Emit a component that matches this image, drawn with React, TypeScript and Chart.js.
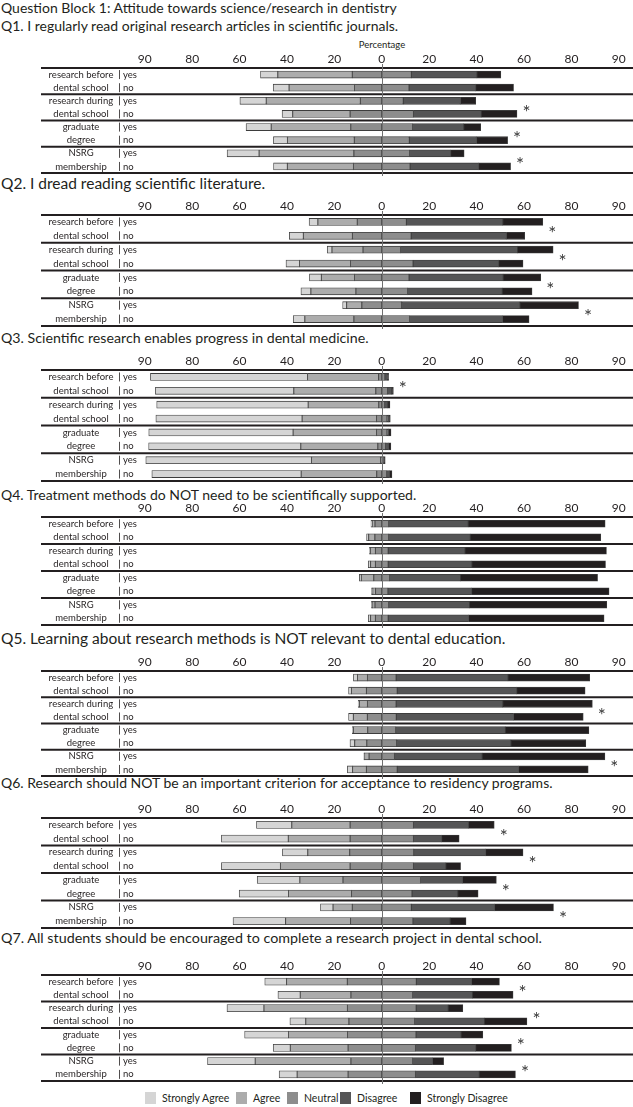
import { useEffect, useRef } from "react";
import { Chart, registerables } from "chart.js";

Chart.register(...registerables);

const FONT = 'Lato, "Liberation Sans", Arial, sans-serif';
const INK = "#231f20";

const blockTitle = "Question Block 1: Attitude towards science/research in dentistry";

const questions = [
	"Q1. I regularly read original research articles in scientific journals.",
	"Q2. I dread reading scientific literature.",
	"Q3. Scientific research enables progress in dental medicine.",
	"Q4. Treatment methods do NOT need to be scientifically supported.",
	"Q5. Learning about research methods is NOT relevant to dental education.",
	"Q6. Research should NOT be an important criterion for acceptance to residency programs.",
	"Q7. All students should be encouraged to complete a research project in dental school.",
];

const groupLabels = [
	["research before", "dental school"],
	["research during", "dental school"],
	["graduate", "degree"],
	["NSRG", "membership"],
];
const rowLabels = ["yes", "no", "yes", "no", "yes", "no", "yes", "no"];

const tickValues = [-100, -80, -60, -40, -20, 0, 20, 40, 60, 80, 100];
const tickLabels = ["90", "80", "60", "40", "20", "0", "20", "40", "60", "80", "90"];

const responseLabels = ["Strongly Agree", "Agree", "Neutral", "Disagree", "Strongly Disagree"];
const responseColors = ["#d5d5d5", "#acacac", "#8d8d8d", "#555556", "#231f20"];

// percent of respondents, rows: before yes/no, during yes/no, graduate yes/no, NSRG yes/no
const stronglyAgree = [
	[7.3, 6.7, 11.1, 4.5, 10.6, 5.9, 13.5, 5.8],
	[3.7, 5.9, 2.0, 5.7, 5.0, 4.2, 1.7, 4.9],
	[66.3, 58.4, 63.9, 61.7, 60.9, 64.2, 69.9, 63.0],
	[0.5, 0.9, 0.4, 1.0, 0.8, 0.5, 0.5, 1.0],
	[1.7, 1.2, 0.5, 2.0, 0.4, 2.0, 0.3, 2.2],
	[14.9, 28.2, 10.7, 24.9, 18.0, 20.8, 5.3, 22.2],
	[9.2, 9.4, 15.6, 6.7, 18.5, 7.2, 20.1, 7.6],
];
const agree = [
	[31.4, 27.6, 39.7, 24.2, 33.6, 28.2, 40.0, 27.9],
	[16.6, 20.7, 13.1, 21.5, 14.0, 19.0, 6.4, 20.7],
	[30.0, 34.6, 29.8, 31.4, 35.2, 32.5, 29.2, 31.9],
	[1.2, 2.6, 2.1, 2.0, 5.3, 1.2, 1.0, 2.0],
	[4.2, 6.3, 3.4, 5.9, 6.1, 5.1, 1.9, 5.8],
	[24.6, 26.1, 17.7, 29.4, 18.2, 26.6, 8.1, 27.4],
	[25.6, 21.4, 35.2, 18.2, 24.9, 24.4, 40.4, 21.5],
];
const neutral = [
	[24.9, 23.0, 18.1, 26.7, 26.1, 23.2, 23.5, 23.9],
	[20.7, 24.8, 15.8, 26.4, 23.0, 21.8, 16.8, 23.5],
	[2.6, 5.0, 2.5, 4.4, 4.4, 3.3, 0.9, 4.2],
	[5.7, 5.8, 5.4, 5.4, 6.7, 5.2, 5.7, 5.4],
	[12.1, 13.0, 12.1, 12.2, 11.8, 12.6, 10.7, 13.0],
	[26.7, 26.7, 27.0, 26.7, 32.7, 25.5, 24.9, 26.3],
	[29.1, 26.0, 29.0, 27.7, 28.9, 28.4, 26.0, 28.4],
];
const disagree = [
	[27.7, 28.1, 24.2, 28.6, 21.5, 28.4, 17.3, 28.9],
	[40.7, 40.2, 49.3, 36.1, 39.7, 39.9, 49.9, 39.2],
	[1.0, 1.7, 1.3, 0.7, 0.7, 1.2, 0.3, 1.2],
	[33.6, 34.4, 32.4, 35.3, 29.8, 35.3, 34.1, 33.9],
	[47.2, 50.4, 45.0, 49.5, 46.2, 48.2, 37.0, 51.2],
	[23.2, 11.9, 30.3, 13.7, 17.7, 19.3, 35.1, 15.7],
	[23.3, 25.2, 13.5, 29.4, 19.0, 25.4, 8.4, 26.9],
];
const stronglyDisagree = [
	[10.1, 16.0, 6.4, 15.1, 7.2, 13.1, 5.7, 13.5],
	[16.9, 7.7, 15.1, 10.3, 15.9, 12.6, 24.7, 11.2],
	[0.6, 0.7, 0.9, 0.7, 1.0, 1.0, 0.7, 1.0],
	[57.8, 55.1, 59.7, 56.4, 57.9, 58.0, 58.0, 57.2],
	[34.5, 28.9, 37.8, 29.4, 35.3, 31.6, 51.8, 29.4],
	[10.9, 7.4, 15.8, 6.2, 14.3, 8.6, 24.9, 6.7],
	[11.8, 17.2, 6.2, 18.0, 9.2, 15.1, 4.7, 15.3],
];

// groups marked with an asterisk (significant difference)
const starredGroups = [[1, 2, 3], [0, 1, 2, 3], [0], [], [1, 3], [0, 1, 2, 3], [0, 1, 2, 3]];

// page layout (px)
const blockLayout = [
	{ titleY: 26, titleSize: 14, plotTop: 66, plotBottom: 173 },
	{ titleY: 183, titleSize: 15.5, plotTop: 213, plotBottom: 326 },
	{ titleY: 338, titleSize: 14.2, plotTop: 368, plotBottom: 481 },
	{ titleY: 495, titleSize: 14, plotTop: 515, plotBottom: 625 },
	{ titleY: 638, titleSize: 15.5, plotTop: 669, plotBottom: 776 },
	{ titleY: 783, titleSize: 14, plotTop: 816, plotBottom: 928 },
	{ titleY: 938, titleSize: 14.3, plotTop: 973, plotBottom: 1081 },
];
const AXIS_SPACE = 20;
const LINE_LEFT = 41;
const PLOT_LEFT = 140;
const legendX = [145, 236, 287, 340, 410];

const BlockChart: React.FC<{ q: number }> = ({ q }) => {
	const canvasRef = useRef<HTMLCanvasElement>(null);
	const chartRef = useRef<Chart | null>(null);
	const layout = blockLayout[q];
	const height = layout.plotBottom - layout.plotTop + AXIS_SPACE + 5;

	useEffect(() => {
		if (!canvasRef.current) return;
		if (chartRef.current) chartRef.current.destroy();

		const ne = neutral[q];
		const rightEnd = ne.map((v, i) => v / 2 + disagree[q][i] + stronglyDisagree[q][i]);

		const segment = (label: string, data: number[], color: string) => ({
			label,
			data,
			backgroundColor: color,
			borderColor: "#3d3d3d",
			borderWidth: 0.8,
			borderSkipped: false,
			barThickness: 7,
		});

		const decor = {
			id: "decor",
			beforeDatasetsDraw(chart: Chart) {
				const { ctx, chartArea } = chart;
				const y = chart.scales.y;
				ctx.save();
				// horizontal rules
				const rules = [chartArea.top];
				for (let g = 1; g < 4; g++) {
					rules.push((y.getPixelForValue(2 * g - 1) + y.getPixelForValue(2 * g)) / 2);
				}
				rules.push(chartArea.bottom);
				ctx.strokeStyle = INK;
				ctx.lineWidth = 2;
				rules.forEach((ry) => {
					ctx.beginPath();
					ctx.moveTo(LINE_LEFT, ry);
					ctx.lineTo(chart.width, ry);
					ctx.stroke();
				});
				// group labels, pipes, yes/no
				ctx.fillStyle = INK;
				ctx.font = `9.5px ${FONT}`;
				ctx.textBaseline = "middle";
				rowLabels.forEach((lab, i) => {
					const ry = y.getPixelForValue(i);
					ctx.textAlign = "center";
					ctx.fillText(groupLabels[Math.floor(i / 2)][i % 2], 81, ry);
					ctx.textAlign = "left";
					ctx.fillText(lab, 123, ry);
					ctx.lineWidth = 0.8;
					ctx.beginPath();
					ctx.moveTo(119.5, ry - 4.5);
					ctx.lineTo(119.5, ry + 4.5);
					ctx.stroke();
				});
				ctx.restore();
			},
			afterDatasetsDraw(chart: Chart) {
				const { ctx, chartArea } = chart;
				const x = chart.scales.x;
				const y = chart.scales.y;
				ctx.save();
				const x0 = Math.round(x.getPixelForValue(0)) + 0.5;
				ctx.strokeStyle = "#707070";
				ctx.lineWidth = 1;
				ctx.beginPath();
				ctx.moveTo(x0, chartArea.top - 4);
				ctx.lineTo(x0, chartArea.bottom + 3);
				ctx.stroke();
				ctx.fillStyle = "#3a3a3a";
				ctx.font = `19px ${FONT}`;
				ctx.textAlign = "center";
				ctx.textBaseline = "middle";
				starredGroups[q].forEach((g) => {
					const end = Math.max(rightEnd[2 * g], rightEnd[2 * g + 1]);
					const px = x.getPixelForValue(end + 4);
					const py = (y.getPixelForValue(2 * g) + y.getPixelForValue(2 * g + 1)) / 2;
					ctx.fillText("*", px, py + 5);
				});
				ctx.restore();
			},
		};

		chartRef.current = new Chart(canvasRef.current, {
			type: "bar",
			data: {
				labels: rowLabels,
				datasets: [
					segment("Neutral", ne.map((v) => -v / 2), responseColors[2]),
					segment("Agree", agree[q].map((v) => -v), responseColors[1]),
					segment("Strongly Agree", stronglyAgree[q].map((v) => -v), responseColors[0]),
					segment("Neutral", ne.map((v) => v / 2), responseColors[2]),
					segment("Disagree", disagree[q], responseColors[3]),
					segment("Strongly Disagree", stronglyDisagree[q], responseColors[4]),
				],
			},
			options: {
				indexAxis: "y",
				animation: false,
				responsive: false,
				layout: { padding: { left: PLOT_LEFT, right: 0, top: AXIS_SPACE - 16.4, bottom: 5 } },
				plugins: { legend: { display: false }, tooltip: { enabled: false } },
				scales: {
					x: {
						position: "top",
						stacked: true,
						min: -102,
						max: 106,
						grid: { display: false, drawTicks: false },
						border: { display: false },
						afterBuildTicks: (axis) => {
							axis.ticks = tickValues.map((value) => ({ value }));
						},
						ticks: {
							callback: (_v, i) => tickLabels[i],
							font: { family: FONT, size: 12 },
							color: INK,
							padding: 2,
							maxRotation: 0,
							autoSkip: false,
						},
					},
					y: { stacked: true, display: false },
				},
			},
			plugins: [decor],
		});

		return () => {
			chartRef.current?.destroy();
			chartRef.current = null;
		};
	}, [q]);

	return (
		<canvas
			ref={canvasRef}
			width={633}
			height={height}
			style={{
				position: "absolute",
				left: 0,
				top: layout.plotTop - AXIS_SPACE,
				width: 633,
				height,
			}}
		/>
	);
};

const App: React.FC = () => {
	const textStyle: React.CSSProperties = {
		position: "absolute",
		left: 1,
		fontFamily: FONT,
		lineHeight: "16px",
		color: INK,
		whiteSpace: "nowrap",
	};
	return (
		<div
			style={{
				position: "absolute",
				left: 0,
				top: 0,
				width: 633,
				height: 1107,
				background: "#fff",
				overflow: "hidden",
			}}
		>
			<div style={{ ...textStyle, top: 0, fontSize: 14 }}>{blockTitle}</div>
			{questions.map((t, q) => (
				<div
					key={t}
					style={{ ...textStyle, top: blockLayout[q].titleY - 8, fontSize: blockLayout[q].titleSize }}
				>
					{t}
				</div>
			))}
			<div
				style={{
					position: "absolute",
					left: 382,
					top: 39,
					transform: "translateX(-50%)",
					fontFamily: FONT,
					fontSize: 9.5,
					lineHeight: "12px",
					color: INK,
				}}
			>
				Percentage
			</div>
			{questions.map((t, q) => (
				<BlockChart key={q} q={q} />
			))}
			{responseLabels.map((lab, i) => (
				<div
					key={lab}
					style={{
						position: "absolute",
						left: legendX[i],
						top: 1092,
						display: "flex",
						alignItems: "center",
						fontFamily: FONT,
						fontSize: 10.5,
						lineHeight: "12px",
						color: INK,
						whiteSpace: "nowrap",
					}}
				>
					<span
						style={{
							display: "inline-block",
							width: 11,
							height: 12,
							background: responseColors[i],
							marginRight: 6,
						}}
					/>
					{lab}
				</div>
			))}
		</div>
	);
};

export default App;
